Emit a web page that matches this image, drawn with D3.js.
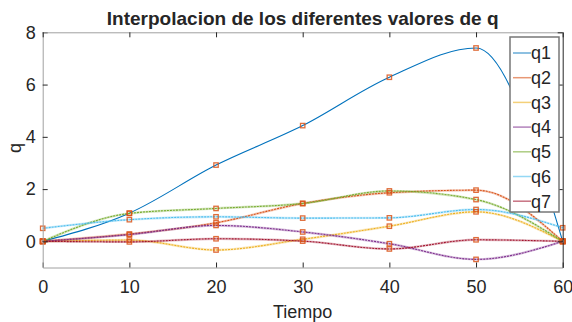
<!DOCTYPE html>
<html>
<head>
<meta charset="utf-8">
<script src="https://cdn.jsdelivr.net/npm/d3@7"></script>
<style>
  body { margin: 0; background: #fff; }
  text { font-family: "Liberation Sans", Arial, sans-serif; fill: #262626; }
</style>
</head>
<body>
<svg id="chart" width="572" height="322"></svg>
<script>
// datos
var tiempo = [0, 10, 20, 30, 40, 50, 60];
var q1 = [0, 1.08, 2.92, 4.43, 6.28, 7.40, 0];
var q2 = [0, 0.28, 0.71, 1.45, 1.86, 1.96, 0];
var q3 = [0, 0.05, -0.33, 0.08, 0.58, 1.13, 0];
var q4 = [0, 0.26, 0.61, 0.36, -0.09, -0.69, 0];
var q5 = [0, 1.07, 1.26, 1.45, 1.93, 1.60, 0];
var q6 = [0.50, 0.83, 0.94, 0.89, 0.90, 1.22, 0.52];
var q7 = [0, -0.02, 0.10, 0.01, -0.29, 0.06, 0];

var nombres = ["q1", "q2", "q3", "q4", "q5", "q6", "q7"];
var series = [q1, q2, q3, q4, q5, q6, q7];
var colores = ["#0072BD", "#D95319", "#EDB120", "#7E2F8E", "#77AC30", "#4DBEEE", "#A2142F"];
var xTicks = [0, 10, 20, 30, 40, 50, 60];
var yTicks = [0, 2, 4, 6, 8];

var x0 = 42.7, x1 = 562.7, y0 = 32.3, y1 = 267.5;

var svg = d3.select("#chart");

var x = d3.scaleLinear().domain([0, 60]).range([x0, x1]);
var y = d3.scaleLinear().domain([-1, 8]).range([y1, y0]);

// titulo
svg.append("text")
    .attr("x", (x0 + x1) / 2)
    .attr("y", 25)
    .attr("text-anchor", "middle")
    .style("font-size", "19px")
    .style("font-weight", "bold")
    .text("Interpolacion de los diferentes valores de q");

// curvas (interpolacion tipo pchip)
var linea = d3.line()
    .x(function(d, i) { return x(tiempo[i]); })
    .y(function(d) { return y(d); })
    .curve(d3.curveMonotoneX);

var g = svg.append("g");
series.forEach(function(s, k) {
  if (k > 0) {
    g.append("path")
        .attr("d", linea(s))
        .attr("fill", "none")
        .attr("stroke", colores[k])
        .attr("stroke-opacity", 0.3)
        .attr("stroke-width", 2.4);
  }
  g.append("path")
      .attr("d", linea(s))
      .attr("fill", "none")
      .attr("stroke", colores[k])
      .attr("stroke-width", 1.1)
      .attr("stroke-dasharray", k > 0 ? "2,1" : null);
});

// marcadores
series.forEach(function(s) {
  g.selectAll(null)
      .data(s)
    .enter().append("rect")
      .attr("x", function(d, i) { return x(tiempo[i]) - 2.2; })
      .attr("y", function(d) { return y(d) - 2.2; })
      .attr("width", 4.4)
      .attr("height", 4.4)
      .attr("fill", "none")
      .attr("stroke", "#D95319")
      .attr("stroke-opacity", 0.85)
      .attr("stroke-width", 1.3);
});

// ejes
var ax = svg.append("g");
ax.append("g")
    .attr("transform", "translate(0," + y1 + ")")
    .call(d3.axisBottom(x).tickValues(xTicks).tickSizeInner(-5).tickSizeOuter(0).tickPadding(13))
    .call(function(a) {
      a.select(".domain").attr("stroke", "#a0a0a0");
      a.selectAll("line").attr("stroke", "#262626");
      a.selectAll("text").style("font-size", "18px").attr("fill", "#262626");
    });
ax.append("g")
    .attr("transform", "translate(" + x0 + ",0)")
    .call(d3.axisLeft(y).tickValues(yTicks).tickSizeInner(-5).tickSizeOuter(0).tickPadding(7))
    .call(function(a) {
      a.select(".domain").attr("stroke", "#a0a0a0");
      a.selectAll("line").attr("stroke", "#262626");
      a.selectAll("text").style("font-size", "18px").attr("fill", "#262626");
    });
ax.append("g")
    .attr("transform", "translate(0," + y0 + ")")
    .call(d3.axisTop(x).tickValues(xTicks).tickSizeInner(-5).tickSizeOuter(0).tickFormat(""))
    .call(function(a) {
      a.select(".domain").attr("stroke", "#a0a0a0");
      a.selectAll("line").attr("stroke", "#262626");
    });
ax.append("g")
    .attr("transform", "translate(" + x1 + ",0)")
    .call(d3.axisRight(y).tickValues(yTicks).tickSizeInner(-5).tickSizeOuter(0).tickFormat(""))
    .call(function(a) {
      a.select(".domain").attr("stroke", "#262626");
      a.selectAll("line").attr("stroke", "#262626");
    });

// etiquetas de ejes
svg.append("text")
    .attr("x", (x0 + x1) / 2)
    .attr("y", 318)
    .attr("text-anchor", "middle")
    .style("font-size", "18px")
    .text("Tiempo");
svg.append("text")
    .attr("transform", "translate(21,148) rotate(-90)")
    .attr("text-anchor", "middle")
    .style("font-size", "18px")
    .text("q");

// leyenda
var leg = svg.append("g").attr("transform", "translate(510,37)");
leg.append("rect")
    .attr("width", 49)
    .attr("height", 175)
    .attr("fill", "#fff")
    .attr("stroke", "#777")
    .attr("stroke-width", 1.5);
var item = leg.selectAll("g.item")
    .data(nombres)
  .enter().append("g")
    .attr("class", "item")
    .attr("transform", function(d, i) { return "translate(0," + (16 + i * 24.7) + ")"; });
item.append("line")
    .attr("x1", 3).attr("x2", 21)
    .attr("stroke", function(d, i) { return colores[i]; })
    .attr("stroke-opacity", 0.6)
    .attr("stroke-width", 1.5);
item.append("text")
    .attr("x", 21)
    .attr("dy", "0.35em")
    .style("font-size", "18px")
    .text(function(d) { return d; });
</script>
</body>
</html>
